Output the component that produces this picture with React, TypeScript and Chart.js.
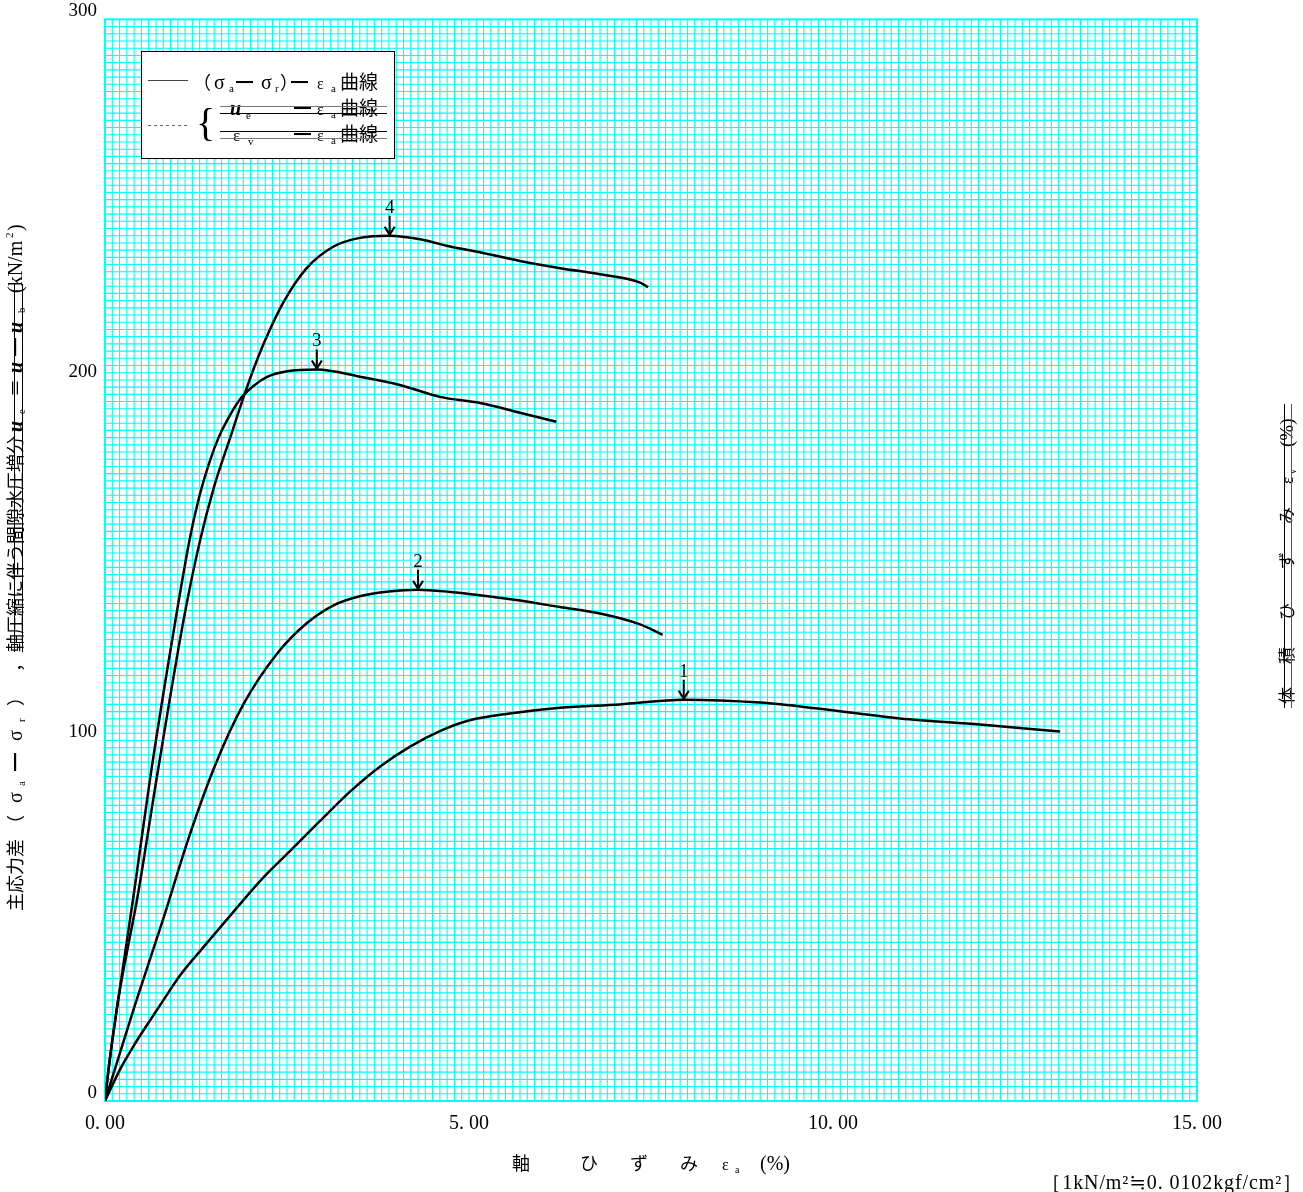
import React, { useEffect, useRef } from 'react';
import { Chart, registerables } from 'chart.js';

Chart.register(...registerables);

// ---- data (axial strain %, deviator stress kN/m2) ----
const strain1 = [0, 0.2, 0.4, 0.62, 0.8, 1.03, 1.37, 1.72, 2.13, 2.54, 2.95, 3.37, 3.78, 4.19, 4.6, 5.01, 5.56, 6.25, 7.07, 7.95, 9.0, 9.82, 10.92, 12.02, 13.12];
const stress1 = [0, 8.5, 15.5, 22.4, 27.9, 34.8, 43.1, 51.4, 61, 69.3, 77.6, 85.9, 92.8, 98.3, 102.6, 105.6, 107.5, 109.1, 110, 111.3, 110.5, 108.8, 106.1, 104.4, 102.5];

const strain2 = [0, 0.2, 0.41, 0.8, 1.15, 1.51, 1.9, 2.36, 2.77, 3.14, 3.5, 3.9, 4.3, 4.74, 5.15, 5.7, 6.25, 6.8, 7.35, 7.66];
const stress2 = [0, 13, 26.5, 50.5, 73, 93, 110, 124, 132.5, 137.5, 140, 141.3, 141.8, 141.2, 140.3, 138.8, 137, 135.2, 132.2, 129.3];

const strain3 = [0, 0.05, 0.18, 0.4, 0.62, 0.98, 1.17, 1.3, 1.44, 1.56, 1.67, 1.85, 2.05, 2.22, 2.5, 2.91, 3.5, 4.05, 4.6, 5.15, 5.7, 6.2];
const stress3 = [0, 9, 27.9, 58, 89.5, 134.8, 156.5, 168, 177.5, 184, 188.5, 194.5, 198.5, 200.8, 202.4, 202.9, 200.9, 198.6, 195.3, 193.6, 190.9, 188.4];

const strain4 = [0, 0.05, 0.18, 0.45, 0.71, 1.08, 1.3, 1.5, 1.72, 1.9, 2.05, 2.2, 2.45, 2.77, 3.14, 3.5, 3.91, 4.33, 4.74, 5.15, 5.7, 6.25, 6.8, 7.35, 7.46];
const stress4 = [0, 9, 27.9, 57, 89.5, 133.5, 155, 170.5, 184, 195, 203.5, 211, 221.5, 231, 237, 239.4, 240, 239, 237, 235.4, 233, 231, 229.3, 227, 225.7];

const peakLabels = ['1', '2', '3', '4'];
const peakStrain = [7.95, 4.3, 2.91, 3.91];
const peakStress = [111.3, 141.8, 202.9, 240];

const xTickLabels = [0, 5, 10, 15];
const yTickLabels = [0, 100, 200, 300];
const xGridStep = 0.1;
const yGridStep = 2;

const JP = '"Noto Sans CJK JP", sans-serif';
const SERIF = '"Liberation Serif", "DejaVu Serif", serif';

type Run = { t: string; font: string; at: number; dy?: number };

function drawRunsH(ctx: CanvasRenderingContext2D, yBase: number, runs: Run[]) {
  ctx.save();
  ctx.textAlign = 'left';
  ctx.textBaseline = 'alphabetic';
  for (const r of runs) {
    ctx.font = r.font;
    ctx.fillText(r.t, r.at, yBase + (r.dy || 0));
  }
  ctx.restore();
}

function drawRunsV(ctx: CanvasRenderingContext2D, xBase: number, runs: Run[]) {
  ctx.save();
  ctx.translate(xBase, 0);
  ctx.rotate(-Math.PI / 2);
  ctx.textAlign = 'left';
  ctx.textBaseline = 'alphabetic';
  for (const r of runs) {
    ctx.font = r.font;
    ctx.fillText(r.t, -r.at, r.dy || 0);
  }
  ctx.restore();
}

function line(ctx: CanvasRenderingContext2D, x1: number, y1: number, x2: number, y2: number, color: string, w: number, dash: number[] = []) {
  ctx.save();
  ctx.strokeStyle = color;
  ctx.lineWidth = w;
  ctx.setLineDash(dash);
  ctx.beginPath();
  ctx.moveTo(x1, y1);
  ctx.lineTo(x2, y2);
  ctx.stroke();
  ctx.restore();
}

const leftTitle: Run[] = [
  { t: '主応力差', font: `18px ${JP}`, at: 911 },
  { t: '（', font: `18px ${JP}`, at: 833 },
  { t: 'σ', font: `20px ${SERIF}`, at: 803 },
  { t: 'a', font: `11px ${SERIF}`, at: 786, dy: 3 },
  { t: '━', font: `18px ${JP}`, at: 771 },
  { t: 'σ', font: `20px ${SERIF}`, at: 741 },
  { t: 'r', font: `11px ${SERIF}`, at: 722, dy: 3 },
  { t: '）', font: `18px ${JP}`, at: 706 },
  { t: '，', font: `18px ${JP}`, at: 672 },
  { t: '軸圧縮に伴う間隙水圧増分', font: `18px ${JP}`, at: 652 },
  { t: 'u', font: `bold italic 20px ${SERIF}`, at: 432 },
  { t: 'e', font: `11px ${SERIF}`, at: 414, dy: 3 },
  { t: '＝', font: `18px ${JP}`, at: 397 },
  { t: 'u', font: `bold italic 20px ${SERIF}`, at: 373 },
  { t: '━', font: `18px ${JP}`, at: 356 },
  { t: 'u', font: `bold italic 20px ${SERIF}`, at: 333 },
  { t: 'b', font: `11px ${SERIF}`, at: 313, dy: 3 },
  { t: '(kN/m', font: `20px ${SERIF}`, at: 293 },
  { t: '2', font: `11px ${SERIF}`, at: 238, dy: -9 },
  { t: ')', font: `20px ${SERIF}`, at: 231 },
];

const rightTitle: Run[] = [
  { t: '体', font: `17px ${JP}`, at: 704 },
  { t: '積', font: `17px ${JP}`, at: 664 },
  { t: 'ひ', font: `17px ${JP}`, at: 620 },
  { t: 'ず', font: `17px ${JP}`, at: 569 },
  { t: 'み', font: `17px ${JP}`, at: 524 },
  { t: 'ε', font: `17px ${SERIF}`, at: 484 },
  { t: 'v', font: `10px ${SERIF}`, at: 474, dy: 3 },
  { t: '(%)', font: `19px ${SERIF}`, at: 447 },
];

const xTitle: Run[] = [
  { t: '軸', font: `18px ${JP}`, at: 512 },
  { t: 'ひ', font: `18px ${JP}`, at: 580 },
  { t: 'ず', font: `18px ${JP}`, at: 630 },
  { t: 'み', font: `18px ${JP}`, at: 680 },
  { t: 'ε', font: `16px ${SERIF}`, at: 722 },
  { t: 'a', font: `10px ${SERIF}`, at: 735, dy: 3 },
  { t: '(%)', font: `20px ${SERIF}`, at: 760 },
];

const legendRow1: Run[] = [
  { t: '（', font: `18px ${JP}`, at: 193 },
  { t: 'σ', font: `20px ${SERIF}`, at: 214 },
  { t: 'a', font: `11px ${SERIF}`, at: 229, dy: 3 },
  { t: '━', font: `17px ${JP}`, at: 236 },
  { t: 'σ', font: `20px ${SERIF}`, at: 261 },
  { t: 'r', font: `11px ${SERIF}`, at: 275, dy: 3 },
  { t: '）', font: `18px ${JP}`, at: 280 },
  { t: '━', font: `17px ${JP}`, at: 291 },
  { t: 'ε', font: `16px ${SERIF}`, at: 317 },
  { t: 'a', font: `11px ${SERIF}`, at: 331, dy: 3 },
  { t: '曲線', font: `19px ${JP}`, at: 340 },
];
const legendRow2: Run[] = [
  { t: 'u', font: `bold italic 20px ${SERIF}`, at: 230 },
  { t: 'e', font: `11px ${SERIF}`, at: 246, dy: 4 },
  { t: '━', font: `17px ${JP}`, at: 294 },
  { t: 'ε', font: `16px ${SERIF}`, at: 317 },
  { t: 'a', font: `11px ${SERIF}`, at: 331, dy: 3 },
  { t: '曲線', font: `19px ${JP}`, at: 340 },
];
const legendRow3: Run[] = [
  { t: 'ε', font: `17px ${SERIF}`, at: 233 },
  { t: 'v', font: `11px ${SERIF}`, at: 248, dy: 4 },
  { t: '━', font: `17px ${JP}`, at: 294 },
  { t: 'ε', font: `16px ${SERIF}`, at: 317 },
  { t: 'a', font: `11px ${SERIF}`, at: 331, dy: 3 },
  { t: '曲線', font: `19px ${JP}`, at: 340 },
];

const decorPlugin = {
  id: 'decor',
  beforeDatasetsDraw(chart: any) {
    const ctx: CanvasRenderingContext2D = chart.ctx;
    const xs = chart.scales.x;
    const ys = chart.scales.y;
    const { left, right, top, bottom } = chart.chartArea;
    ctx.save();
    ctx.strokeStyle = '#00FFFF';
    ctx.lineWidth = 1.1;
    ctx.beginPath();
    const nx = Math.round((xs.max - xs.min) / xGridStep);
    for (let i = 0; i <= nx; i++) {
      const px = xs.getPixelForValue(xs.min + i * xGridStep);
      ctx.moveTo(px, top);
      ctx.lineTo(px, bottom);
    }
    const ny = Math.round((ys.max - ys.min) / yGridStep);
    for (let j = 0; j <= ny; j++) {
      const py = ys.getPixelForValue(ys.min + j * yGridStep);
      ctx.moveTo(left, py);
      ctx.lineTo(right, py);
    }
    ctx.stroke();
    ctx.lineWidth = 2;
    ctx.strokeRect(left, top, right - left, bottom - top);
    ctx.restore();
  },
  afterDatasetsDraw(chart: any) {
    const ctx: CanvasRenderingContext2D = chart.ctx;
    const xs = chart.scales.x;
    const ys = chart.scales.y;
    ctx.save();
    ctx.fillStyle = '#000';
    for (let i = 0; i < peakLabels.length; i++) {
      const px = xs.getPixelForValue(peakStrain[i]);
      const py = ys.getPixelForValue(peakStress[i]);
      line(ctx, px, py - 20, px, py - 2, '#000', 2);
      ctx.save();
      ctx.strokeStyle = '#000';
      ctx.lineWidth = 2.2;
      ctx.beginPath();
      ctx.moveTo(px - 5, py - 9);
      ctx.lineTo(px, py - 1);
      ctx.lineTo(px + 5, py - 9);
      ctx.stroke();
      ctx.restore();
      ctx.font = `19px ${SERIF}`;
      ctx.textAlign = 'center';
      ctx.textBaseline = 'middle';
      ctx.fillText(peakLabels[i], px, py - 28);
    }
    ctx.restore();
  },
  afterDraw(chart: any) {
    const ctx: CanvasRenderingContext2D = chart.ctx;
    ctx.save();
    // legend box
    ctx.fillStyle = '#fff';
    ctx.fillRect(141, 51, 254, 108);
    ctx.strokeStyle = '#000';
    ctx.lineWidth = 1;
    ctx.strokeRect(141.5, 51.5, 253, 107);
    ctx.fillStyle = '#000';
    line(ctx, 148, 80.5, 188, 80.5, '#444', 1);
    line(ctx, 148, 125.5, 188, 125.5, '#666', 1, [3, 3]);
    drawRunsH(ctx, 89, legendRow1);
    drawRunsH(ctx, 115, legendRow2);
    drawRunsH(ctx, 141, legendRow3);
    ctx.font = `40px ${SERIF}`;
    ctx.textAlign = 'left';
    ctx.fillText('{', 196, 136);
    line(ctx, 220, 106.5, 387, 106.5, '#777', 1);
    line(ctx, 220, 113.5, 387, 113.5, '#000', 1);
    line(ctx, 220, 131.5, 387, 131.5, '#000', 1);
    line(ctx, 220, 138.5, 387, 138.5, '#777', 1);

    // axis titles
    drawRunsV(ctx, 22, leftTitle);
    line(ctx, 14.5, 652, 14.5, 284, '#000', 1);
    line(ctx, 22.5, 652, 22.5, 284, '#000', 1);

    drawRunsV(ctx, 1293, rightTitle);
    line(ctx, 1284.5, 404, 1284.5, 708, '#000', 1);
    line(ctx, 1291.5, 404, 1291.5, 708, '#555', 1);

    drawRunsH(ctx, 1170, xTitle);

    ctx.font = `20px ${SERIF}`;
    (ctx as any).letterSpacing = '0.9px';
    ctx.textAlign = 'right';
    ctx.fillText('［1kN/m²≒0. 0102kgf/cm²］', 1303, 1189);
    ctx.restore();
  },
};

function isLabelValue(v: number, list: number[]) {
  return list.some((l) => Math.abs(v - l) < 1e-6);
}

export default function App() {
  const ref = useRef<HTMLCanvasElement | null>(null);
  useEffect(() => {
    if (!ref.current) return;
    const mk = (xs: number[], ys: number[]) => xs.map((x, i) => ({ x, y: ys[i] }));
    const ds = (data: any) => ({
      data,
      borderColor: '#000',
      borderWidth: 2.5,
      pointRadius: 0,
      fill: false,
      cubicInterpolationMode: 'monotone' as const,
    });
    const chart = new Chart(ref.current, {
      type: 'line',
      data: {
        datasets: [
          ds(mk(strain1, stress1)),
          ds(mk(strain2, stress2)),
          ds(mk(strain3, stress3)),
          ds(mk(strain4, stress4)),
        ],
      },
      options: {
        responsive: false,
        animation: false,
        events: [],
        layout: { padding: { left: 0, top: 15, right: 106, bottom: 0 } },
        plugins: { legend: { display: false }, tooltip: { enabled: false } },
        scales: {
          x: {
            type: 'linear',
            min: 0,
            max: 15,
            border: { display: false },
            grid: { display: false, drawTicks: false },
            ticks: {
              stepSize: 5,
              autoSkip: false,
              maxRotation: 0,
              padding: 11,
              color: '#000',
              font: { family: '"Liberation Serif", serif', size: 20 },
              callback: (v: any) => {
                const n = Number(v);
                return isLabelValue(n, xTickLabels) ? n.toFixed(2).replace('.', '. ') : '';
              },
            },
            afterFit: (s: any) => {
              s.height = 91;
            },
          },
          y: {
            type: 'linear',
            min: 0,
            max: 300,
            border: { display: false },
            grid: { display: false, drawTicks: false },
            ticks: {
              stepSize: 100,
              autoSkip: false,
              padding: 8,
              labelOffset: -8,
              color: '#000',
              font: { family: '"Liberation Serif", serif', size: 19 },
              callback: (v: any) => {
                const n = Number(v);
                return isLabelValue(n, yTickLabels) ? String(Math.round(n)) : '';
              },
            },
            afterFit: (s: any) => {
              s.width = 105;
            },
          },
        },
      },
      plugins: [decorPlugin],
    });
    return () => chart.destroy();
  }, []);
  return (
    <div style={{ position: 'absolute', left: 0, top: 0, width: 1303, height: 1192, background: '#fff' }}>
      <canvas ref={ref} width={1303} height={1192} style={{ display: 'block' }} />
    </div>
  );
}
